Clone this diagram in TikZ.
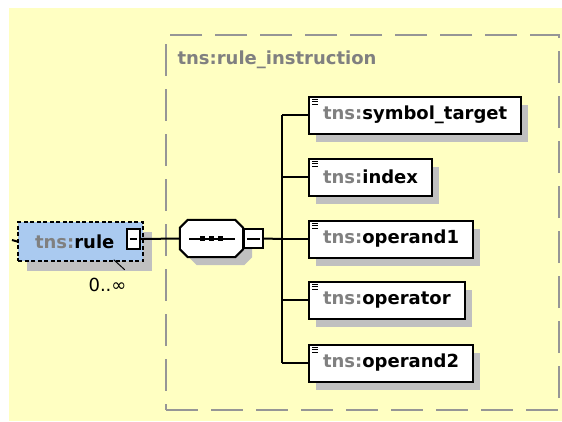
\documentclass[tikz,border=0pt]{standalone}
\usepackage{fontspec}
\setmainfont{DejaVu Sans}
\usetikzlibrary{shadows}
\definecolor{bgyellow}{RGB}{255,255,194}
\definecolor{grpgray}{RGB}{150,150,150}
\definecolor{shadowgray}{RGB}{192,192,192}
\definecolor{prefixgray}{RGB}{128,128,128}
\definecolor{ruleblue}{RGB}{170,202,240}
\newcommand{\tns}[1]{{\color{prefixgray}tns:}#1}
\tikzset{
  wire/.style={line width=2pt},
  elem/.style={draw=black, line width=2pt, fill=white, anchor=west,
    minimum height=37pt, inner xsep=14pt, inner ysep=0pt,
    font=\fontsize{18}{20}\selectfont\bfseries,
    general shadow={fill=shadowgray, shadow xshift=7pt, shadow yshift=-8pt}},
  minusbox/.style={draw=black, line width=1.5pt, fill=white, inner sep=0pt},
  dotsq/.style={fill=black, minimum size=5pt, inner sep=0pt},
  seqshadow/.style={preaction={fill=shadowgray, transform canvas={shift={(9pt,-8pt)}}}}
}
\begin{document}
\begin{tikzpicture}[x=1pt, y=1pt]
        \useasboundingbox (0,0) rectangle (562,-421);
        \fill[bgyellow] (9,-8) rectangle (562,-421);

        % Group
        \node (grp) [draw=grpgray, line width=2pt, dash pattern=on 32pt off 13pt,
          minimum width=393pt, minimum height=375pt, inner sep=0pt] at (362.5,-222.5) {};
        \node (grplabel) [anchor=west, text=prefixgray, font=\fontsize{18}{20}\selectfont\bfseries]
          at (174,-60) {tns:rule\_instruction};

        % Nodes
        \node (rule) [draw=black, line width=1.5pt, dash pattern=on 4pt off 2.5pt, fill=ruleblue,
          minimum height=39pt, text width=91pt, inner xsep=17pt, inner ysep=0pt,
          font=\fontsize{18}{20}\selectfont\bfseries,
          general shadow={fill=shadowgray, shadow xshift=9pt, shadow yshift=-10pt}]
          at (80.5,-241.5) {\tns{rule}};
        \node (ruleminus) [minusbox, minimum width=13pt, minimum height=20pt] at (133.5,-239) {};
        \node (card) [font=\fontsize{18}{20}\selectfont] at (107.5,-285) {0..∞};
        \coordinate (in) at (12,-240);

        % Sequence
        \node (seq) [minimum width=63pt, minimum height=37pt, inner sep=0pt] at (211.5,-238.5) {};
        \draw[line width=2pt, fill=white, seqshadow]
          ([xshift=8pt]seq.north west) -- ([xshift=-8pt]seq.north east)
          -- ([yshift=-8pt]seq.north east) -- ([yshift=8pt]seq.south east)
          -- ([xshift=-8pt]seq.south east) -- ([xshift=8pt]seq.south west)
          -- ([yshift=8pt]seq.south west) -- ([yshift=-8pt]seq.north west) -- cycle;
        \node (seqminus) [minusbox, anchor=west, minimum width=19pt, minimum height=19pt] at (seq.east) {};
        \node (sq1) [dotsq] at (202.5,-238.5) {};
        \node (sq2) [dotsq] at (211.5,-238.5) {};
        \node (sq3) [dotsq] at (220.5,-238.5) {};

        \foreach \nm/\txt/\y in {symb/symbol\_target/115, idx/index/177, opa/operand1/239,
                                 opr/operator/300, opb/operand2/363} {
          \node (\nm) [elem] at (308,-\y) {\tns{\txt}};
          \coordinate (b\nm) at (282,-\y);
          \draw[wire] (b\nm) -- (\nm);
          \foreach \k in {0,1,2}
            \draw[line width=1pt] ([xshift=4pt, yshift={-3.5pt-2.6pt*\k}]\nm.north west)
              -- ++(6pt,0);
        }

        % Edges
        \draw[wire] (in) -- (rule.west);
        \draw[wire] (ruleminus.east) -- (seq.west);
        \draw[line width=1pt] ([xshift=-30pt, yshift=2pt]rule.south east) -- ([xshift=-19pt, yshift=-8pt]rule.south east);
        \draw[wire] ([xshift=-13.5pt]sq1.center) -- ([xshift=14.5pt]sq3.center);
        \draw[wire] ([xshift=3.5pt]ruleminus.west) -- ([xshift=-3.5pt]ruleminus.east);
        \draw[wire] ([xshift=4pt]seqminus.west) -- ([xshift=-4pt]seqminus.east);
        \draw[wire] (seqminus.east) -- (bopa);
        \draw[wire] (bsymb) -- (bopb);
    \end{tikzpicture}
\end{document}
